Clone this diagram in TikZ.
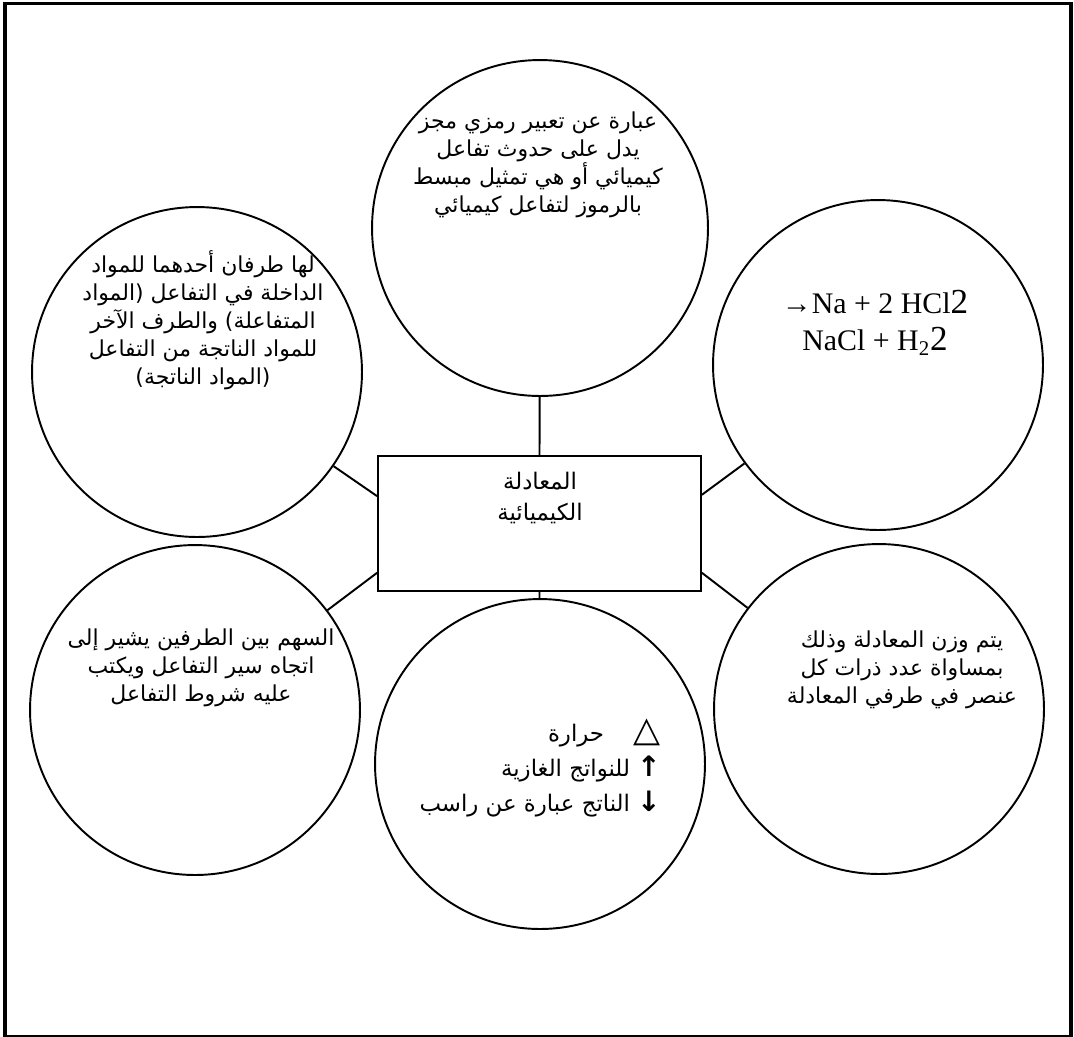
\documentclass[tikz,border=0pt]{standalone}
\usepackage{fontspec}
\setmainfont{Liberation Serif}
\newfontfamily\arabicfont[Script=Arabic]{DejaVu Sans}
\newfontfamily\symbfont{DejaVu Sans}
\TeXXeTstate=1
\usetikzlibrary{calc}
\newcommand{\rl}[1]{\beginR #1\endR}

\begin{document}
\begin{tikzpicture}[x=0.02cm,y=-0.02cm,
  bubble/.style={draw,circle,line width=1.1pt,minimum size=6.6cm,inner sep=0pt},
  arabic/.style={font=\arabicfont\fontsize{12.5}{16}\selectfont,align=center},
  link/.style={line width=1.1pt}]
  \useasboundingbox (0,0) rectangle (1074,1036);
  % outer frame
  \draw[line width=2pt] (5,3.5) rectangle (1071,1036.5);
  % centre box
  \node[draw,line width=1.1pt,minimum width=6.46cm,minimum height=2.7cm,inner sep=0pt] (eq) at (539.5,523.5) {};
  \node[arabic,font=\arabicfont\fontsize{13}{17.5}\selectfont,anchor=north] (eqtext) at (540,466) {\rl{المعادلة}\\ \rl{الكيميائية}};
  % circles
  \node[bubble,minimum size=6.72cm] (top) at (540,228) {};
  \node[bubble] (lefttop) at (197,372) {};
  \node[bubble] (righttop) at (878,365) {};
  \node[bubble] (leftbot) at (195,710) {};
  \node[bubble] (rightbot) at (879,709) {};
  \node[bubble] (bottom) at (540,764) {};
  % texts in the circles
  \node[arabic] (deftext) at (538,165) {\rl{عبارة عن تعبير رمزي مجز}\\ \rl{يدل على حدوث تفاعل}\\ \rl{كيميائي أو هي تمثيل مبسط}\\ \rl{بالرموز لتفاعل كيميائي}};
  \node[arabic] (sidestext) at (203,320) {\rl{لها طرفان أحدهما للمواد}\\ \rl{الداخلة في التفاعل (المواد}\\ \rl{المتفاعلة) والطرف الآخر}\\ \rl{للمواد الناتجة من التفاعل}\\ \rl{(المواد الناتجة)}};
  \node[font=\fontsize{17}{21}\selectfont,align=center] (reaction) at (875,323) {→Na + 2 HCl{\fontsize{20}{21}\selectfont 2}\\ NaCl + H\textsubscript{2}{\fontsize{20}{21}\selectfont 2}};
  \node[arabic] (arrowtext) at (201,668) {\rl{السهم بين الطرفين يشير إلى}\\ \rl{اتجاه سير التفاعل ويكتب}\\ \rl{عليه شروط التفاعل}};
  \node[arabic] (balancetext) at (902,670) {\rl{يتم وزن المعادلة وذلك}\\ \rl{بمساواة عدد ذرات كل}\\ \rl{عنصر في طرفي المعادلة}};
  \node[arabic,align=right,font=\arabicfont\fontsize{13}{19.8}\selectfont,anchor=east] (symtext) at (667,768) {\rl{{\symbfont\fontsize{20}{19.8}\selectfont △}\hspace{1.3em}حرارة}\\ \rl{{\symbfont\bfseries\fontsize{16}{19.8}\selectfont ↑}\ للنواتج الغازية}\\ \rl{{\symbfont\bfseries\fontsize{16}{19.8}\selectfont ↓}\ الناتج عبارة عن راسب}};
  % links
  \draw[link] (eq.north) -- (top);
  \draw[link] (eq.south) -- (bottom);
  \draw[link] ($(eq.north west)!0.3!(eq.south west)$) -- (lefttop);
  \draw[link] ($(eq.north west)!0.86!(eq.south west)$) -- (leftbot);
  \draw[link] ($(eq.north east)!0.29!(eq.south east)$) -- (righttop);
  \draw[link] ($(eq.north east)!0.86!(eq.south east)$) -- (rightbot);
\end{tikzpicture}
\end{document}
